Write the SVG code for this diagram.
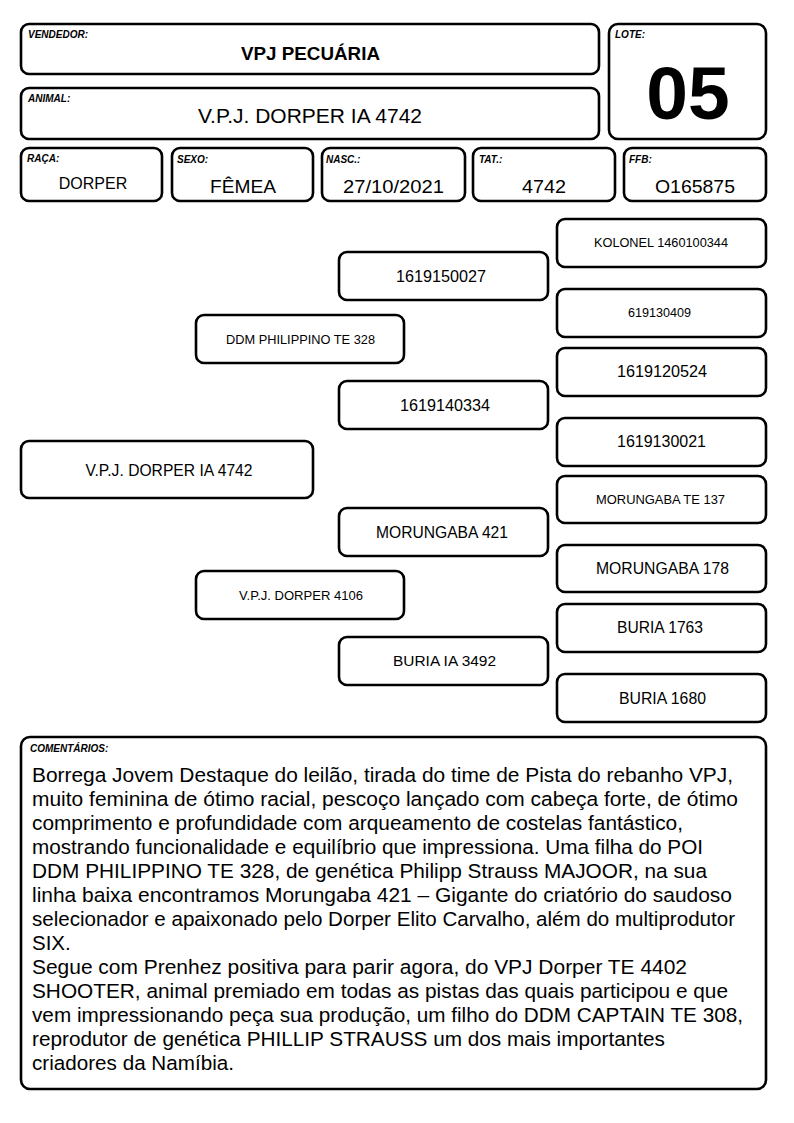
<svg xmlns="http://www.w3.org/2000/svg" width="794" height="1123" viewBox="0 0 794 1123">
<style>
.box{fill:#fff;stroke:#000;stroke-width:2.6}
.lbl{font-family:"Liberation Sans",Arial,sans-serif;font-size:10px;font-weight:bold;font-style:italic;fill:#000}
.val{font-family:"Liberation Sans",Arial,sans-serif;fill:#000;text-anchor:middle}
.ped{font-family:"Liberation Sans",Arial,sans-serif;fill:#000;text-anchor:middle}
.cm{font-family:"Liberation Sans",Arial,sans-serif;font-size:20.5px;fill:#000}
</style>
<rect width="794" height="1123" fill="#fff"/>
<g id="vendedor">
<rect class="box" x="21" y="24" width="578" height="50" rx="8"/>
<text class="lbl" x="28" y="38">VENDEDOR:</text>
<text class="val" x="310.5" y="60" font-size="18.8" font-weight="bold" textLength="139" lengthAdjust="spacingAndGlyphs">VPJ PECUÁRIA</text>
</g>
<g id="animal">
<rect class="box" x="21" y="88" width="578" height="51" rx="8"/>
<text class="lbl" x="28" y="102">ANIMAL:</text>
<text class="val" x="310" y="123" font-size="21" textLength="224" lengthAdjust="spacingAndGlyphs">V.P.J. DORPER IA 4742</text>
</g>
<g id="lote">
<rect class="box" x="609" y="24" width="157" height="115" rx="9"/>
<text class="lbl" x="615" y="38">LOTE:</text>
<text class="val" x="688" y="119" font-size="75" font-weight="bold">05</text>
</g>
<g id="raca">
<rect class="box" x="21" y="148" width="141" height="53" rx="8"/>
<text class="lbl" x="27" y="162">RAÇA:</text>
<text class="val" x="93" y="189" font-size="16">DORPER</text>
</g>
<g id="sexo">
<rect class="box" x="172" y="148" width="141" height="53" rx="8"/>
<text class="lbl" x="177" y="163">SEXO:</text>
<text class="val" x="243" y="193" font-size="19" textLength="66" lengthAdjust="spacingAndGlyphs">FÊMEA</text>
</g>
<g id="nasc">
<rect class="box" x="322" y="148" width="143" height="53" rx="8"/>
<text class="lbl" x="326" y="163">NASC.:</text>
<text class="val" x="393.5" y="193" font-size="19" textLength="101" lengthAdjust="spacingAndGlyphs">27/10/2021</text>
</g>
<g id="tat">
<rect class="box" x="473" y="148" width="142" height="53" rx="8"/>
<text class="lbl" x="479" y="163">TAT.:</text>
<text class="val" x="544" y="193" font-size="19" textLength="44" lengthAdjust="spacingAndGlyphs">4742</text>
</g>
<g id="ffb">
<rect class="box" x="624" y="148" width="142" height="53" rx="8"/>
<text class="lbl" x="629" y="163">FFB:</text>
<text class="val" x="695" y="193" font-size="19" textLength="80" lengthAdjust="spacingAndGlyphs">O165875</text>
</g>
<g id="connectors"></g>
<g id="p-animal">
<rect class="box" x="21" y="441" width="292" height="57" rx="8"/>
<text class="ped" x="169" y="476" font-size="16" textLength="167" lengthAdjust="spacingAndGlyphs">V.P.J. DORPER IA 4742</text>
</g>
<g id="p-sire">
<rect class="box" x="196" y="315" width="208" height="48" rx="8"/>
<text class="ped" x="300.5" y="344" font-size="12.6" textLength="149" lengthAdjust="spacingAndGlyphs">DDM PHILIPPINO TE 328</text>
</g>
<g id="p-dam">
<rect class="box" x="196" y="571" width="208" height="48" rx="8"/>
<text class="ped" x="301" y="600" font-size="12.8" textLength="124" lengthAdjust="spacingAndGlyphs">V.P.J. DORPER 4106</text>
</g>
<g id="p-ss">
<rect class="box" x="339" y="252" width="209" height="48" rx="8"/>
<text class="ped" x="441" y="282" font-size="16" textLength="90" lengthAdjust="spacingAndGlyphs">1619150027</text>
</g>
<g id="p-sd">
<rect class="box" x="339" y="381" width="209" height="48" rx="8"/>
<text class="ped" x="445" y="411" font-size="16" textLength="90" lengthAdjust="spacingAndGlyphs">1619140334</text>
</g>
<g id="p-ds">
<rect class="box" x="339" y="508" width="209" height="48" rx="8"/>
<text class="ped" x="442" y="538" font-size="15.6" textLength="132" lengthAdjust="spacingAndGlyphs">MORUNGABA 421</text>
</g>
<g id="p-dd">
<rect class="box" x="339" y="637" width="209" height="48" rx="8"/>
<text class="ped" x="444.5" y="666" font-size="15" textLength="103" lengthAdjust="spacingAndGlyphs">BURIA IA 3492</text>
</g>
<g id="p-sss">
<rect class="box" x="557" y="219" width="209" height="48" rx="8"/>
<text class="ped" x="661" y="247" font-size="12.6" textLength="134" lengthAdjust="spacingAndGlyphs">KOLONEL 1460100344</text>
</g>
<g id="p-ssd">
<rect class="box" x="557" y="289" width="209" height="48" rx="8"/>
<text class="ped" x="659.5" y="317" font-size="12" textLength="63" lengthAdjust="spacingAndGlyphs">619130409</text>
</g>
<g id="p-sds">
<rect class="box" x="557" y="348" width="209" height="48" rx="8"/>
<text class="ped" x="662" y="377" font-size="16" textLength="90" lengthAdjust="spacingAndGlyphs">1619120524</text>
</g>
<g id="p-sdd">
<rect class="box" x="557" y="418" width="209" height="48" rx="8"/>
<text class="ped" x="661.5" y="447" font-size="16" textLength="89" lengthAdjust="spacingAndGlyphs">1619130021</text>
</g>
<g id="p-dss">
<rect class="box" x="557" y="476" width="209" height="47" rx="8"/>
<text class="ped" x="660.5" y="504" font-size="12.6" textLength="129" lengthAdjust="spacingAndGlyphs">MORUNGABA TE 137</text>
</g>
<g id="p-dsd">
<rect class="box" x="557" y="545" width="209" height="47" rx="8"/>
<text class="ped" x="662.5" y="574" font-size="15.6" textLength="133" lengthAdjust="spacingAndGlyphs">MORUNGABA 178</text>
</g>
<g id="p-dds">
<rect class="box" x="557" y="604" width="209" height="48" rx="8"/>
<text class="ped" x="660" y="633" font-size="15.6" textLength="86" lengthAdjust="spacingAndGlyphs">BURIA 1763</text>
</g>
<g id="p-ddd">
<rect class="box" x="557" y="674" width="209" height="48" rx="8"/>
<text class="ped" x="662.5" y="704" font-size="15.6" textLength="87" lengthAdjust="spacingAndGlyphs">BURIA 1680</text>
</g>
<g id="comentarios">
<rect class="box" x="21" y="737" width="745" height="352" rx="9"/>
<text class="lbl" x="30" y="752">COMENTÁRIOS:</text>
<text class="cm" x="32" y="782" textLength="701" lengthAdjust="spacingAndGlyphs">Borrega Jovem Destaque do leilão, tirada do time de Pista do rebanho VPJ,</text>
<text class="cm" x="32" y="806" textLength="706" lengthAdjust="spacingAndGlyphs">muito feminina de ótimo racial, pescoço lançado com cabeça forte, de ótimo</text>
<text class="cm" x="32" y="830" textLength="651" lengthAdjust="spacingAndGlyphs">comprimento e profundidade com arqueamento de costelas fantástico,</text>
<text class="cm" x="32" y="854" textLength="671" lengthAdjust="spacingAndGlyphs">mostrando funcionalidade e equilíbrio que impressiona. Uma filha do POI</text>
<text class="cm" x="32" y="878" textLength="675" lengthAdjust="spacingAndGlyphs">DDM PHILIPPINO TE 328, de genética Philipp Strauss MAJOOR, na sua</text>
<text class="cm" x="32" y="902" textLength="700" lengthAdjust="spacingAndGlyphs">linha baixa encontramos Morungaba 421 – Gigante do criatório do saudoso</text>
<text class="cm" x="32" y="926" textLength="703" lengthAdjust="spacingAndGlyphs">selecionador e apaixonado pelo Dorper Elito Carvalho, além do multiprodutor</text>
<text class="cm" x="32" y="950">SIX.</text>
<text class="cm" x="32" y="974" textLength="655" lengthAdjust="spacingAndGlyphs">Segue com Prenhez positiva para parir agora, do VPJ Dorper TE 4402</text>
<text class="cm" x="32" y="998" textLength="696" lengthAdjust="spacingAndGlyphs">SHOOTER, animal premiado em todas as pistas das quais participou e que</text>
<text class="cm" x="32" y="1022" textLength="711" lengthAdjust="spacingAndGlyphs">vem impressionando peça sua produção, um filho do DDM CAPTAIN TE 308,</text>
<text class="cm" x="32" y="1046" textLength="633" lengthAdjust="spacingAndGlyphs">reprodutor de genética PHILLIP STRAUSS um dos mais importantes</text>
<text class="cm" x="32" y="1070" textLength="202" lengthAdjust="spacingAndGlyphs">criadores da Namíbia.</text>
</g>
</svg>
